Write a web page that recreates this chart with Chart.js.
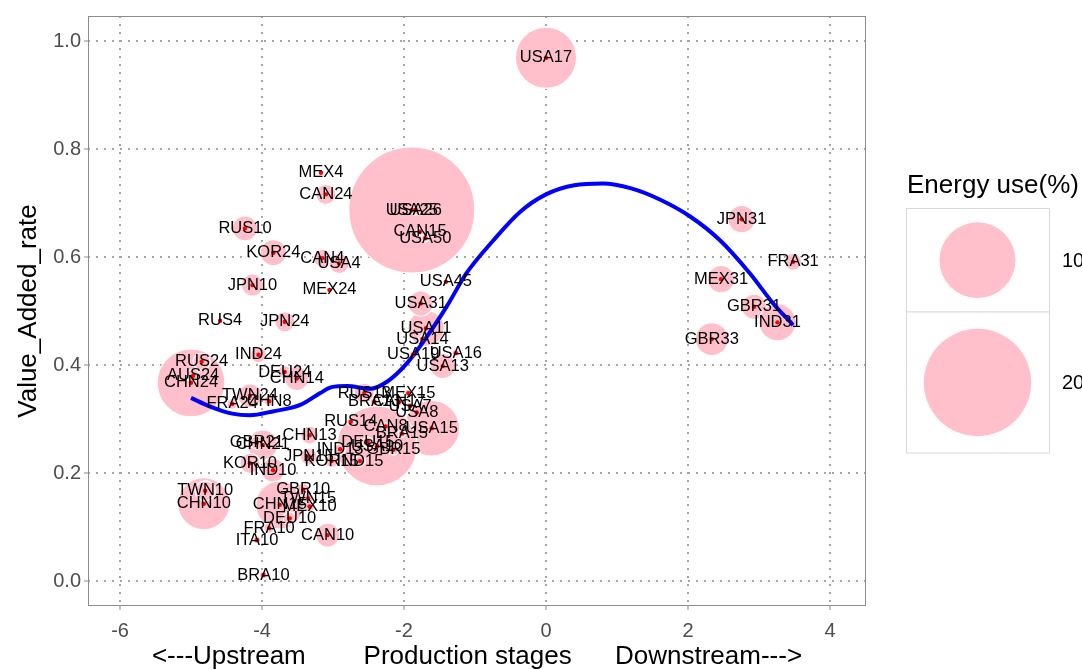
<!DOCTYPE html>
<html>
<head>
<meta charset="utf-8">
<script src="https://cdn.jsdelivr.net/npm/chart.js@4.4.1/dist/chart.umd.min.js"></script>
<style>
  html, body { margin: 0; padding: 0; background: #fff; }
</style>
</head>
<body>
<canvas id="valueChart" width="1082" height="670"></canvas>
<script>
// sector labels, production stage position, value added rate, energy use (%)
const codes = ['USA17','USA25','USA26','CAN15','USA50','MEX4','CAN24','RUS10','KOR24','CAN4',
  'USA4','JPN10','MEX24','USA45','RUS4','JPN24','USA11','USA31','USA14','USA19',
  'USA16','USA13','CHN24','RUS24','AUS24','IND24','DEU24','CHN14','TWN24','FRA24',
  'CHN8','RUS13','MEX15','BRA13','CAN17','USA7','USA8','USA15','USA10','RUS14',
  'CAN8','BRA15','DEU15','IND13','GBR15','JPN15','KOR15','IND15','CHN13','CHN21',
  'GBR21','KOR10','IND10','CHN10','TWN10','CHN15','GBR10','TWN15','MEX10','DEU10',
  'FRA10','ITA10','CAN10','BRA10','JPN31','FRA31','MEX31','GBR31','IND31','GBR33'];
const stageX = [0.00,-1.89,-1.835,-1.775,-1.70,-3.17,-3.10,-4.24,-3.84,-3.15,
  -2.915,-4.135,-3.05,-1.41,-4.59,-3.68,-1.69,-1.765,-1.74,-1.87,
  -1.27,-1.455,-5.00,-4.85,-4.97,-4.05,-3.68,-3.51,-4.17,-4.42,
  -3.90,-2.56,-1.94,-2.42,-2.07,-1.915,-1.82,-1.61,-2.38,-2.75,
  -2.26,-2.03,-2.51,-2.90,-2.15,-3.34,-3.02,-2.62,-3.33,-3.99,
  -4.075,-4.17,-3.845,-4.82,-4.80,-3.75,-3.42,-3.35,-3.33,-3.61,
  -3.90,-4.07,-3.075,-3.98,2.755,3.48,2.465,2.93,3.26,2.335];
const valueAdded = [0.969,0.687,0.687,0.647,0.635,0.756,0.716,0.653,0.608,0.598,
  0.588,0.548,0.539,0.554,0.482,0.480,0.468,0.514,0.448,0.419,
  0.422,0.398,0.367,0.406,0.380,0.419,0.387,0.375,0.343,0.328,
  0.333,0.348,0.348,0.332,0.332,0.324,0.312,0.283,0.250,0.295,
  0.286,0.273,0.257,0.244,0.243,0.230,0.222,0.222,0.270,0.252,
  0.256,0.218,0.205,0.143,0.167,0.141,0.169,0.153,0.138,0.116,
  0.098,0.076,0.085,0.011,0.670,0.591,0.559,0.508,0.479,0.448];
const energyUse = [6.5,27.6,0.17,0.1,0.1,0.05,0.7,1.1,1.2,0.56,
  0.7,0.85,0.05,0.05,0.05,0.7,2.25,1.1,0.1,0.1,
  0.1,1.1,8.0,0.5,0.3,0.45,0.3,1.0,1.0,0.2,
  0.2,0.7,0.1,0.1,0.1,0.1,0.1,5.4,11.1,0.1,
  0.1,0.1,0.2,0.2,0.2,0.5,0.3,0.2,0.56,1.56,
  0.3,0.7,1.0,4.7,0.7,4.0,0.3,0.2,0.2,0.3,
  0.2,0.1,1.0,0.1,1.3,0.5,1.3,1.1,2.4,1.9];

// smoothed trend
const smoothX = [-5.00,-4.73,-4.42,-4.17,-3.85,-3.46,-3.18,-3.02,-2.80,-2.48,-2.24,-1.96,-1.68,
  -1.40,-1.12,-0.74,-0.37,0.00,0.40,0.80,1.20,1.61,2.03,2.45,2.87,3.20,3.48];
const smoothY = [0.339,0.323,0.310,0.307,0.314,0.326,0.348,0.359,0.361,0.356,0.369,0.403,0.452,
  0.508,0.570,0.631,0.683,0.716,0.733,0.736,0.727,0.706,0.675,0.631,0.570,0.514,0.474];

const xTickValues = [-6, -4, -2, 0, 2, 4];
const yTickValues = [0, 0.2, 0.4, 0.6, 0.8, 1.0];
const legendSizes = [10, 20];

const FONT = "'Liberation Sans', Arial, sans-serif";
const sizeScale = 12; // px radius per sqrt(energy %)
function bubbleRadius(e) { return sizeScale * Math.sqrt(e); }

const overlay = {
  id: 'overlay',
  afterDatasetsDraw(chart) {
    const ctx = chart.ctx;
    const meta = chart.getDatasetMeta(2);
    ctx.save();
    ctx.font = '16.5px ' + FONT;
    ctx.fillStyle = '#000';
    ctx.textAlign = 'center';
    ctx.textBaseline = 'middle';
    meta.data.forEach((pt, i) => ctx.fillText(codes[i], pt.x, pt.y));
    ctx.restore();
  },
  afterDraw(chart) {
    const ctx = chart.ctx;
    const a = chart.chartArea;
    ctx.save();
    // panel border
    ctx.strokeStyle = '#8c8c8c';
    ctx.lineWidth = 1;
    ctx.strokeRect(a.left + 0.5, a.top + 0.5, a.right - a.left - 1, a.bottom - a.top - 1);

    // size legend
    ctx.fillStyle = '#000';
    ctx.font = '26px ' + FONT;
    ctx.textAlign = 'left';
    ctx.textBaseline = 'alphabetic';
    ctx.fillText('Energy use(%)', 907, 193);

    const boxes = [[208.5, 103.5], [312, 141]];
    ctx.strokeStyle = '#d9d9d9';
    boxes.forEach((b, i) => {
      ctx.fillStyle = '#fff';
      ctx.fillRect(906.5, b[0], 143, b[1]);
      ctx.strokeRect(906.5, b[0], 143, b[1]);
      const cy = b[0] + b[1] / 2;
      ctx.fillStyle = 'pink';
      ctx.beginPath();
      ctx.arc(977.5, cy, bubbleRadius(legendSizes[i]), 0, Math.PI * 2);
      ctx.fill();
      ctx.fillStyle = '#000';
      ctx.font = '20px ' + FONT;
      ctx.textBaseline = 'middle';
      ctx.fillText(String(legendSizes[i]), 1062, cy + 1);
    });
    ctx.restore();
  }
};

const gridStyle = {
  color: '#a6a6a6',
  lineWidth: 2,
  drawTicks: true,
  tickLength: 4,
  tickColor: '#8c8c8c',
  tickWidth: 1
};

new Chart('valueChart', {
  type: 'scatter',
  data: {
    datasets: [
      {
        type: 'bubble',
        order: 3,
        data: codes.map((c, i) => ({ x: stageX[i], y: valueAdded[i], r: bubbleRadius(energyUse[i]) })),
        backgroundColor: 'pink',
        borderColor: '#ffffff',
        borderWidth: 1.2
      },
      {
        type: 'line',
        order: 2,
        data: smoothX.map((x, i) => ({ x: x, y: smoothY[i] })),
        borderColor: '#0000ff',
        borderWidth: 4,
        pointRadius: 0,
        fill: false,
        cubicInterpolationMode: 'monotone'
      },
      {
        type: 'scatter',
        order: 1,
        data: codes.map((c, i) => ({ x: stageX[i], y: valueAdded[i] })),
        backgroundColor: '#ff0000',
        borderWidth: 0,
        pointRadius: 2.2
      }
    ]
  },
  options: {
    responsive: false,
    animation: false,
    layout: { autoPadding: false, padding: { left: 0, top: 16, right: 216, bottom: 0 } },
    plugins: { legend: { display: false }, tooltip: { enabled: false } },
    scales: {
      x: {
        type: 'linear',
        min: -6.451,
        max: 4.507,
        afterBuildTicks: s => { s.ticks = xTickValues.map(v => ({ value: v })); },
        afterFit: s => { s.height = 64; },
        grid: gridStyle,
        border: { display: false, dash: [2, 6] },
        ticks: {
          color: '#4d4d4d',
          font: { family: FONT, size: 20 },
          padding: 9,
          maxRotation: 0,
          autoSkip: false,
          callback: v => String(v)
        },
        title: {
          display: true,
          text: '<---Upstream        Production stages      Downstream--->',
          color: '#000',
          font: { family: FONT, size: 26, lineHeight: 1 },
          padding: { top: 0, bottom: 0 }
        }
      },
      y: {
        type: 'linear',
        min: -0.0463,
        max: 1.0463,
        afterBuildTicks: s => { s.ticks = yTickValues.map(v => ({ value: v })); },
        afterFit: s => { s.width = 88; },
        grid: gridStyle,
        border: { display: false, dash: [2, 6] },
        ticks: {
          color: '#4d4d4d',
          font: { family: FONT, size: 20 },
          padding: 3,
          autoSkip: false,
          callback: v => v.toFixed(1)
        },
        title: {
          display: true,
          text: 'Value_Added_rate',
          color: '#000',
          font: { family: FONT, size: 26, lineHeight: 1 },
          padding: { top: 16, bottom: 0 }
        }
      }
    }
  },
  plugins: [overlay]
});
</script>
</body>
</html>
